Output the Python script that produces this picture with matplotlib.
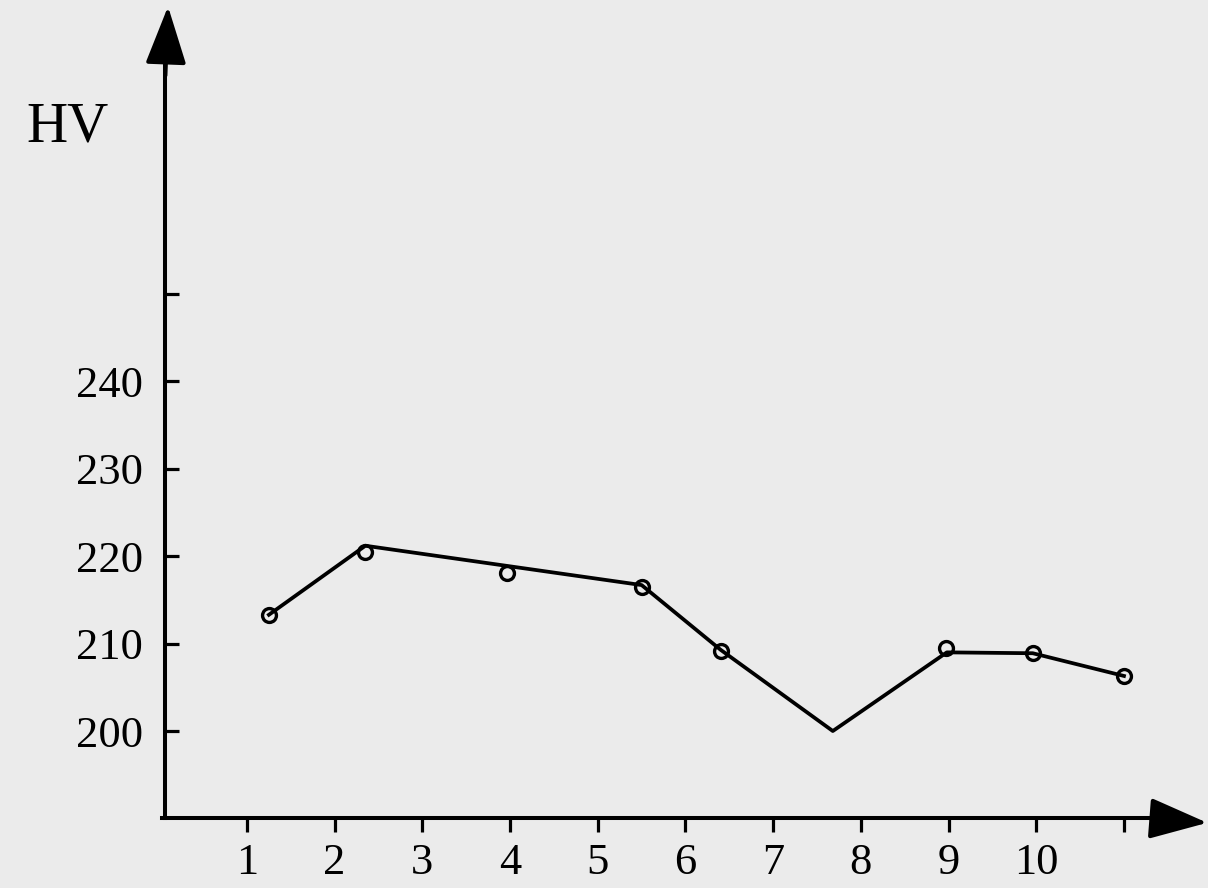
import matplotlib
matplotlib.use("Agg")
import matplotlib.pyplot as plt

# ---- data ----
x_ticks = [1, 2, 3, 4, 5, 6, 7, 8, 9, 10, 11]
x_labels = ["1", "2", "3", "4", "5", "6", "7", "8", "9", "10", ""]
y_ticks = [200, 210, 220, 230, 240, 250]
y_labels = ["200", "210", "220", "230", "240", ""]

# measured points (circles)
point_x = [1.25, 2.35, 3.96, 5.50, 6.40, 8.97, 9.96, 11.0]
point_y = [213.3, 220.5, 218.1, 216.5, 209.2, 209.5, 208.9, 206.3]

# hand-drawn polyline
line_x = [1.25, 2.35, 5.50, 6.40, 7.68, 8.98, 9.96, 11.0]
line_y = [213.3, 221.2, 216.7, 209.3, 200.0, 209.0, 208.9, 206.3]

y_title = "HV"

# ---- style ----
bg = "#ebebeb"
plt.rcParams["font.family"] = ["Liberation Serif", "DejaVu Serif"]

fig = plt.figure(figsize=(12.08, 8.88), dpi=100, facecolor=bg)
ax = fig.add_axes([0, 0, 1, 1])
ax.set_facecolor(bg)
ax.set_xlim(-1.816, 11.958)
ax.set_ylim(182.04, 283.64)

x0, y0 = 0.07, 190.0
for s in ["top", "right"]:
    ax.spines[s].set_visible(False)
ax.spines["left"].set_position(("data", x0))
ax.spines["bottom"].set_position(("data", y0))
ax.spines["left"].set_bounds(y0, 279)
ax.spines["bottom"].set_bounds(x0 - 0.04, 11.6)
for s in ["left", "bottom"]:
    ax.spines[s].set_linewidth(2.9)
    ax.spines[s].set_capstyle("projecting")

arrow = dict(arrowstyle="-|>,head_length=2.4,head_width=0.85",
             mutation_scale=15, color="black", lw=2.9, shrinkA=0, shrinkB=0)
ax.annotate("", xy=(x0 + 0.03, 282.9), xytext=(x0, 275), arrowprops=arrow)
ax.annotate("", xy=(11.95, y0 - 0.5), xytext=(11.3, y0), arrowprops=arrow)

ax.set_xticks(x_ticks, x_labels)
ax.set_yticks(y_ticks, y_labels)
ax.tick_params(axis="x", direction="out", length=10, width=2.3, pad=8,
               labelsize=32, colors="black")
ax.tick_params(axis="y", direction="in", length=10, width=2.3, pad=16,
               labelsize=32, colors="black")

ax.plot(line_x, line_y, color="black", lw=2.7, zorder=3)
ax.plot(point_x, point_y, "o", mfc="none", mec="black", ms=10, mew=2.4, zorder=4)

fig.text(0.022, 0.856, y_title, fontsize=41, va="center", ha="left")

fig.savefig("out.png", dpi=100, facecolor=bg)
